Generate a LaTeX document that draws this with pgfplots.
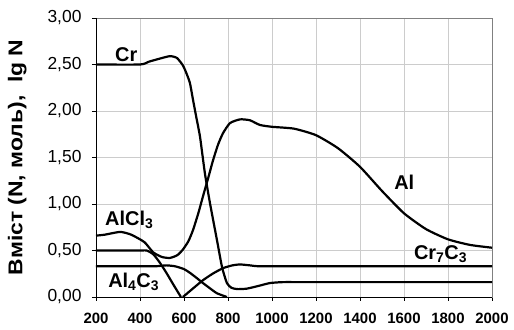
\documentclass[border=0pt]{standalone}
\usepackage{fontspec}
\setmainfont{Liberation Sans}
\usepackage{graphicx}
\usepackage{pgfplots}
\pgfplotsset{compat=1.18}
\begin{document}
\begin{tikzpicture}
\begin{axis}[
  scale only axis, width=396bp, height=279bp,
  xmin=200, xmax=2000, ymin=0, ymax=3,
  xtick={200,400,...,2000}, ytick={0,0.5,...,3},
  grid=major, grid style={draw=black!20, line width=0.6bp},
  axis line style={draw=black!50, line width=0.8bp},
  tick style={black, line width=0.8bp},
  major tick length=4bp,
  tick align=outside, xtick pos=bottom, ytick pos=left,
  /pgf/number format/assume math mode=true,
  yticklabel style={font=\fontsize{17.5}{19}\selectfont, xshift=-7bp, /pgf/number format/.cd, fixed, fixed zerofill, precision=2, use comma},
  xticklabel style={font=\fontsize{15}{17}\selectfont\bfseries, yshift=-9bp, /pgf/number format/.cd, 1000 sep={}},
  scaled ticks=false,
  ylabel={\scalebox{1.15}[1]{Вміст (N, моль),\ \ lg N}},
  ylabel style={font=\fontsize{20}{22}\selectfont\bfseries, yshift=14bp},
  cycle list={black,mark=none,line width=2.2bp,smooth,tension=0.35\\},
  clip=false,
]
\coordinate (psw) at (rel axis cs:0,0);
\draw[black, line width=0.9bp] (rel axis cs:0,1) -- (rel axis cs:0,0) -- (rel axis cs:1,0);
% Cr
\addplot coordinates {(200,2.50)(400,2.50)(440,2.53)(485,2.56)(536,2.59)(568,2.57)(595,2.49)(612,2.40)(627,2.30)(641,2.12)(657,1.92)(673,1.72)(695,1.33)(718,1.01)(750,0.61)(773,0.32)(795,0.15)(815,0.10)(841,0.085)(886,0.09)(940,0.12)(991,0.15)(1050,0.16)(1150,0.16)(2000,0.16)};
% Al
\addplot coordinates {(200,0.66)(240,0.67)(310,0.70)(360,0.67)(420,0.59)(460,0.48)(500,0.43)(536,0.42)(570,0.45)(595,0.51)(620,0.60)(641,0.72)(665,0.90)(686,1.08)(710,1.28)(732,1.47)(755,1.64)(777,1.76)(809,1.87)(855,1.91)(900,1.90)(945,1.85)(1000,1.83)(1100,1.81)(1200,1.74)(1300,1.60)(1400,1.40)(1500,1.14)(1600,0.90)(1700,0.73)(1800,0.62)(1900,0.56)(2000,0.53)};
% AlCl3
\addplot coordinates {(200,0.50)(400,0.50)(430,0.50)(460,0.46)(490,0.37)(520,0.26)(550,0.14)(586,0.0)};
% Al4C3
\addplot coordinates {(200,0.33)(420,0.33)(470,0.33)(520,0.34)(560,0.33)(600,0.30)(627,0.26)(660,0.20)(686,0.15)(720,0.09)(750,0.04)(795,0.0)};
% Cr7C3
\addplot coordinates {(595,0.0)(640,0.09)(686,0.18)(730,0.25)(777,0.31)(820,0.34)(855,0.35)(900,0.34)(940,0.33)(1050,0.33)(2000,0.33)};
\node[anchor=base west, font=\fontsize{20}{22}\selectfont\bfseries, inner sep=0] at (axis cs:286,2.53) {Cr};
\node[anchor=base west, font=\fontsize{20}{22}\selectfont\bfseries, inner sep=0] at (axis cs:241,0.77) {AlCl\textsubscript{3}};
\node[anchor=base west, font=\fontsize{20}{22}\selectfont\bfseries, inner sep=0] at (axis cs:255,0.10) {Al\textsubscript{4}C\textsubscript{3}};
\node[anchor=base west, font=\fontsize{20}{22}\selectfont\bfseries, inner sep=0] at (axis cs:1555,1.16) {Al};
\node[anchor=base west, font=\fontsize{20}{22}\selectfont\bfseries, inner sep=0] at (axis cs:1645,0.40) {Cr\textsubscript{7}C\textsubscript{3}};
\end{axis}
\pgfresetboundingbox
\path (psw) ++(-96bp,-33bp) rectangle ++(514bp,330bp);
\end{tikzpicture}
\end{document}
